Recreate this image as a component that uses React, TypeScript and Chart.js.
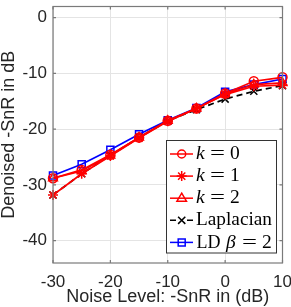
import React, { useEffect, useRef } from 'react';
import { Chart, registerables } from 'chart.js';

Chart.register(...registerables);

const noiseLevels = [-30, -25, -20, -15, -10, -5, 0, 5, 10];
const k0Values = [-28.8, -27.3, -24.6, -21.5, -18.5, -16.3, -13.6, -11.4, -10.7];
const k1Values = [-31.8, -28.0, -24.8, -21.6, -18.6, -16.3, -13.8, -12.3, -12.1];
const k2Values = [-28.8, -27.5, -24.7, -21.5, -18.5, -16.3, -13.7, -12.0, -11.7];
const laplacianValues = [-31.8, -28.0, -24.7, -21.5, -18.5, -16.5, -14.6, -13.2, -12.2];
const ldValues = [-28.3, -26.3, -23.7, -20.9, -18.4, -16.2, -13.3, -12.0, -11.0];
const xTicks = [-30, -20, -10, 0, 10];
const yTicks = [-40, -30, -20, -10, 0];
const xTitle = 'Noise Level: -SnR in (dB)';
const yTitle = 'Denoised -SnR in dB';

const SANS = '"Liberation Sans", Arial, Helvetica, sans-serif';
const SERIF = '"Liberation Serif", "Times New Roman", serif';
const RED = '#ff0000';
const BLUE = '#0000ff';
const BLACK = '#000000';

function drawMarker(ctx: CanvasRenderingContext2D, style: string, x: number, y: number, color: string) {
  ctx.save();
  ctx.strokeStyle = color;
  ctx.lineWidth = 1.5;
  ctx.setLineDash([]);
  ctx.beginPath();
  if (style === 'circle') {
    ctx.arc(x, y, 4, 0, Math.PI * 2);
  } else if (style === 'star') {
    const r = 5;
    ctx.moveTo(x - r, y); ctx.lineTo(x + r, y);
    ctx.moveTo(x, y - r); ctx.lineTo(x, y + r);
    const d = r * 0.72;
    ctx.moveTo(x - d, y - d); ctx.lineTo(x + d, y + d);
    ctx.moveTo(x - d, y + d); ctx.lineTo(x + d, y - d);
  } else if (style === 'triangle') {
    const r = 5;
    ctx.moveTo(x, y - r);
    ctx.lineTo(x + r * 0.95, y + r * 0.6);
    ctx.lineTo(x - r * 0.95, y + r * 0.6);
    ctx.closePath();
  } else if (style === 'crossRot') {
    const d = 3.6;
    ctx.moveTo(x - d, y - d); ctx.lineTo(x + d, y + d);
    ctx.moveTo(x - d, y + d); ctx.lineTo(x + d, y - d);
  } else if (style === 'rect') {
    ctx.rect(x - 3.5, y - 3.5, 7, 7);
  }
  ctx.stroke();
  ctx.restore();
}

const legendRows = [
  { color: RED, style: 'circle', dash: false, parts: [{ t: 'k', it: true, x: 196 }, { t: '=', it: false, x: 210, w: 15 }, { t: '0', it: false, x: 230 }] },
  { color: RED, style: 'star', dash: false, parts: [{ t: 'k', it: true, x: 196 }, { t: '=', it: false, x: 210, w: 15 }, { t: '1', it: false, x: 230 }] },
  { color: RED, style: 'triangle', dash: false, parts: [{ t: 'k', it: true, x: 196 }, { t: '=', it: false, x: 210, w: 15 }, { t: '2', it: false, x: 230 }] },
  { color: BLACK, style: 'crossRot', dash: true, parts: [{ t: 'Laplacian', it: false, x: 196, fit: 76 }] },
  { color: BLUE, style: 'rect', dash: false, parts: [{ t: 'LD', it: false, x: 196.5, fit: 24 }, { t: 'β', it: true, x: 226 }, { t: '=', it: false, x: 242, w: 15 }, { t: '2', it: false, x: 262 }] },
];

const framePlugin = {
  id: 'matlabFrame',
  afterDraw(chart: any) {
    const ctx: CanvasRenderingContext2D = chart.ctx;
    const a = chart.chartArea;
    const xs = chart.scales.x;
    const ys = chart.scales.y;
    ctx.save();
    // box
    ctx.strokeStyle = '#7a7a7a';
    ctx.lineWidth = 1.2;
    ctx.strokeRect(a.left, a.top, a.right - a.left, a.bottom - a.top);
    // inner ticks
    ctx.beginPath();
    for (const v of xTicks) {
      const px = xs.getPixelForValue(v);
      ctx.moveTo(px, a.bottom); ctx.lineTo(px, a.bottom - 3);
      ctx.moveTo(px, a.top); ctx.lineTo(px, a.top + 3);
    }
    for (const v of yTicks) {
      const py = ys.getPixelForValue(v);
      ctx.moveTo(a.left, py); ctx.lineTo(a.left + 3, py);
      ctx.moveTo(a.right, py); ctx.lineTo(a.right - 3, py);
    }
    ctx.stroke();

    // axis titles
    ctx.fillStyle = '#262626';
    ctx.font = `18px ${SANS}`;
    ctx.textAlign = 'center';
    ctx.textBaseline = 'middle';
    ctx.fillText(xTitle, (a.left + a.right) / 2, 297);
    ctx.save();
    ctx.translate(9, (a.top + a.bottom) / 2);
    ctx.rotate(-Math.PI / 2);
    ctx.fillText(yTitle, 0, 0);
    ctx.restore();

    // legend
    const lx = 166.5, ly = 140.5, lw = 110, lh = 112.5;
    ctx.fillStyle = '#ffffff';
    ctx.fillRect(lx, ly, lw, lh);
    ctx.strokeStyle = '#333333';
    ctx.lineWidth = 1;
    ctx.strokeRect(lx, ly, lw, lh);
    legendRows.forEach((row, i) => {
      const cy = 154 + i * 22.1;
      ctx.save();
      ctx.strokeStyle = row.color;
      ctx.lineWidth = 1.5;
      ctx.beginPath();
      if (row.dash) {
        ctx.moveTo(170, cy); ctx.lineTo(176, cy);
        ctx.moveTo(187, cy); ctx.lineTo(193, cy);
      } else {
        ctx.moveTo(170, cy); ctx.lineTo(193, cy);
      }
      ctx.stroke();
      ctx.restore();
      drawMarker(ctx, row.style, 181.7, cy, row.color);
      ctx.fillStyle = '#000000';
      ctx.textBaseline = 'middle';
      for (const p of row.parts as any[]) {
        ctx.font = `${p.it ? 'italic ' : ''}19.5px ${SERIF}`;
        if (p.w) {
          ctx.textAlign = 'center';
          ctx.save();
          const mw = ctx.measureText(p.t).width;
          ctx.translate(p.x + p.w / 2, cy);
          ctx.scale(p.w / mw, 1);
          ctx.fillText(p.t, 0, 0);
          ctx.restore();
        } else {
          ctx.textAlign = 'left';
          if (p.fit) {
            ctx.fillText(p.t, p.x, cy, p.fit);
          } else {
            ctx.fillText(p.t, p.x, cy);
          }
        }
      }
    });
    ctx.restore();
  },
};

export default function App() {
  const ref = useRef<HTMLCanvasElement>(null);
  useEffect(() => {
    const mk = (vals: number[]) => noiseLevels.map((x, i) => ({ x, y: vals[i] }));
    const base = {
      borderWidth: 1.7,
      pointBorderWidth: 1.5,
      pointBackgroundColor: 'rgba(0,0,0,0)',
      fill: false,
      tension: 0,
      clip: false as any,
    };
    const chart = new Chart(ref.current!, {
      type: 'line',
      data: {
        datasets: [
          { ...base, label: 'k = 0', data: mk(k0Values), borderColor: RED, pointBorderColor: RED, pointStyle: 'circle', pointRadius: 4.5 },
          { ...base, label: 'k = 1', data: mk(k1Values), borderColor: RED, pointBorderColor: RED, pointStyle: 'star', pointRadius: 5 },
          { ...base, label: 'k = 2', data: mk(k2Values), borderColor: RED, pointBorderColor: RED, pointStyle: 'triangle', pointRadius: 5 },
          { ...base, label: 'Laplacian', data: mk(laplacianValues), borderColor: BLACK, pointBorderColor: BLACK, pointStyle: 'crossRot', pointRadius: 5, borderDash: [6, 4] },
          { ...base, label: 'LD β = 2', data: mk(ldValues), borderColor: BLUE, pointBorderColor: BLUE, pointStyle: 'rect', pointRadius: 5 },
        ] as any,
      },
      options: {
        responsive: false,
        animation: false,
        devicePixelRatio: 1,
        layout: { padding: { top: 0, right: 8.5, left: 0, bottom: 0 } },
        plugins: { legend: { display: false }, tooltip: { enabled: false } },
        scales: {
          x: {
            type: 'linear',
            min: -30,
            max: 10,
            afterBuildTicks: (s: any) => { s.ticks = xTicks.map((v) => ({ value: v })); },
            afterFit: (s: any) => { s.height = 44; s.paddingLeft = 0; s.paddingRight = 0; },
            grid: { color: '#e4e4e4', drawTicks: false, lineWidth: 1 },
            border: { display: false },
            ticks: { padding: 9, color: '#262626', font: { family: SANS, size: 17 }, maxRotation: 0, autoSkip: false },
          },
          y: {
            type: 'linear',
            min: -44,
            max: 2,
            afterBuildTicks: (s: any) => { s.ticks = yTicks.map((v) => ({ value: v })); },
            afterFit: (s: any) => { s.width = 53; s.paddingTop = 0; s.paddingBottom = 0; },
            grid: { color: '#e4e4e4', drawTicks: false, lineWidth: 1 },
            border: { display: false },
            ticks: { padding: 6, color: '#262626', font: { family: SANS, size: 17 }, autoSkip: false },
          },
        },
      } as any,
      plugins: [framePlugin],
    });
    return () => chart.destroy();
  }, []);
  return (
    <div style={{ position: 'fixed', left: 0, top: 0, width: 291, height: 307, background: '#ffffff' }}>
      <canvas ref={ref} width={291} height={307} style={{ display: 'block', width: 291, height: 307 }} />
    </div>
  );
}
